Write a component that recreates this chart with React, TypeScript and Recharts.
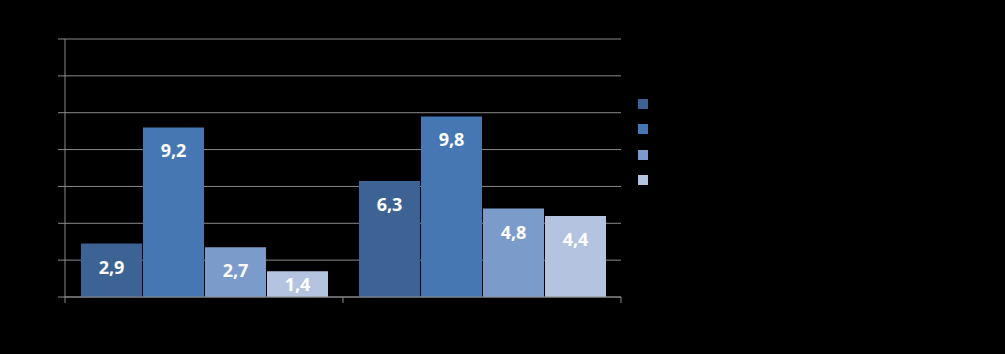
import React from "react";
import { BarChart, Bar, XAxis, YAxis, CartesianGrid, Legend } from "recharts";

const CATEGORIES = ["Категория 1", "Категория 2"];
const SERIES_NAMES = ["Ряд 1", "Ряд 2", "Ряд 3", "Ряд 4"];
const SERIES_1 = [2.9, 6.3];
const SERIES_2 = [9.2, 9.8];
const SERIES_3 = [2.7, 4.8];
const SERIES_4 = [1.4, 4.4];
const Y_TICKS = [0, 2, 4, 6, 8, 10, 12, 14];

const COLORS = ["#3D6394", "#4777B3", "#7B9BCB", "#B4C3DF"];
const GRID = "#8A8A8A";

const data = CATEGORIES.map((name, i) => ({
  name,
  s1: SERIES_1[i],
  s2: SERIES_2[i],
  s3: SERIES_3[i],
  s4: SERIES_4[i],
}));
const keys = ["s1", "s2", "s3", "s4"];

const fmt = (v: number) => v.toFixed(1).replace(".", ",");

const BarLabel = (props: any) => {
  const { x, y, width, height, value } = props;
  const cy = y + Math.min(23, height / 2);
  return (
    <text
      x={x + width / 2}
      y={cy}
      fill="#FFFFFF"
      textAnchor="middle"
      dominantBaseline="central"
      style={{ fontFamily: "Open Sans", fontWeight: 700, fontSize: 18 }}
    >
      {fmt(value)}
    </text>
  );
};

const CatTick = (props: any) => {
  const { x, y, payload, index, visibleTicksCount } = props;
  const off = payload.offset || 0;
  const last = index === visibleTicksCount - 1;
  return (
    <g>
      <line x1={x - off} x2={x - off} y1={y - 6} y2={y} stroke={GRID} />
      {last && <line x1={x + off} x2={x + off} y1={y - 6} y2={y} stroke={GRID} />}
      <text x={x} y={y + 14} fill="#000000" textAnchor="middle" style={{ fontSize: 12 }}>
        {payload.value}
      </text>
    </g>
  );
};

const LegendContent = () => (
  <div style={{ fontFamily: "Open Sans", fontSize: 12 }}>
    {SERIES_NAMES.map((n, i) => (
      <div key={n} style={{ display: "flex", alignItems: "center", height: 25.5 }}>
        <div style={{ width: 10, height: 10, background: COLORS[i], marginRight: 6 }} />
        <span style={{ color: "#000000" }}>{n}</span>
      </div>
    ))}
  </div>
);

export default function App() {
  return (
    <div style={{ position: "fixed", left: 0, top: 0, width: 1005, height: 354, background: "#000000" }}>
      <BarChart
        width={1005}
        height={354}
        data={data}
        margin={{ top: 39, right: 384, bottom: 27, left: 0 }}
        barSize={61}
        barGap={1}
      >
        <CartesianGrid vertical={false} stroke={GRID} />
        <XAxis
          dataKey="name"
          height={30}
          tickLine={false}
          tickSize={6}
          tickMargin={0}
          axisLine={{ stroke: GRID }}
          tick={<CatTick />}
          interval={0}
        />
        <YAxis
          width={65}
          domain={[0, 14]}
          ticks={Y_TICKS}
          tickSize={7}
          axisLine={{ stroke: GRID }}
          tickLine={{ stroke: GRID }}
          tick={{ fill: "#000000", fontSize: 12 }}
          tickFormatter={(v: number) => String(v)}
        />
        <YAxis
          yAxisId="r"
          orientation="right"
          width={0}
          domain={[0, 14]}
          tick={false}
          tickLine={false}
          axisLine={{ stroke: GRID }}
        />
        <Legend
          layout="vertical"
          align="center"
          verticalAlign="middle"
          content={<LegendContent />}
          wrapperStyle={{ left: 638, top: 91, width: 200 }}
        />
        {keys.map((k, i) => (
          <Bar
            key={k}
            dataKey={k}
            name={SERIES_NAMES[i]}
            fill={COLORS[i]}
            isAnimationActive={false}
            label={<BarLabel />}
          />
        ))}
      </BarChart>
    </div>
  );
}
